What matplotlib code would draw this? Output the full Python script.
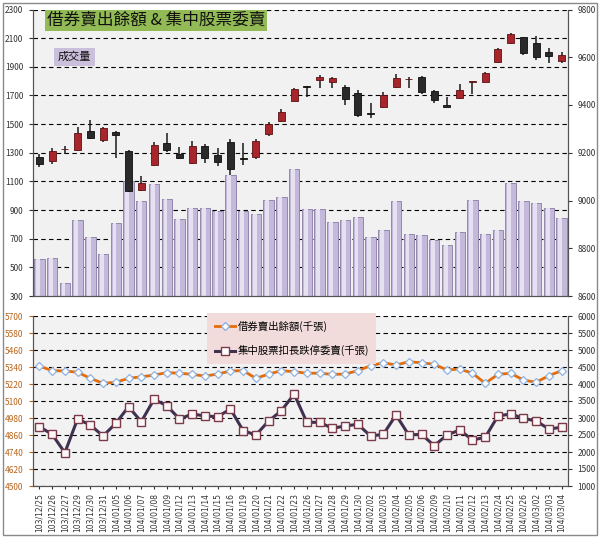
import matplotlib
matplotlib.use('Agg')
import matplotlib.pyplot as plt
import numpy as np
from matplotlib.patches import Rectangle
from matplotlib.lines import Line2D

plt.rcParams['font.family'] = ['Noto Sans CJK TC', 'DejaVu Sans']

dates = ['103/12/25', '103/12/26', '103/12/27', '103/12/29', '103/12/30', '103/12/31',
         '104/01/05', '104/01/06', '104/01/07', '104/01/08', '104/01/09',
         '104/01/12', '104/01/13', '104/01/14', '104/01/15', '104/01/16',
         '104/01/19', '104/01/20', '104/01/21', '104/01/22', '104/01/23',
         '104/01/26', '104/01/27', '104/01/28', '104/01/29', '104/01/30',
         '104/02/02', '104/02/03', '104/02/04', '104/02/05', '104/02/06',
         '104/02/09', '104/02/10', '104/02/11', '104/02/12', '104/02/13',
         '104/02/24', '104/02/25', '104/02/26', '104/03/02', '104/03/03', '104/03/04']

volume = [555, 565, 390, 830, 710, 590, 810, 1100, 960, 1080, 975,
          840, 915, 915, 890, 1145, 890, 870, 970, 989, 1190,
          905, 910, 820, 830, 850, 710, 760, 965, 730, 725,
          690, 655, 750, 970, 735, 760, 1090, 960, 950, 915, 845]

k_open = [9181, 9167, 9215, 9212, 9292, 9253, 9288, 9207, 9044, 9149, 9242,
          9195, 9156, 9230, 9191, 9244, 9177, 9181, 9277, 9333, 9418,
          9477, 9505, 9498, 9474, 9449, 9366, 9390, 9477, 9507, 9519,
          9460, 9400, 9428, 9497, 9498, 9581, 9658, 9684, 9661, 9623, 9584]
k_high = [9195, 9219, 9228, 9309, 9337, 9307, 9292, 9212, 9103, 9246, 9282,
          9225, 9251, 9235, 9219, 9256, 9242, 9256, 9330, 9383, 9470,
          9478, 9526, 9519, 9484, 9463, 9407, 9456, 9530, 9516, 9522,
          9463, 9432, 9487, 9499, 9540, 9640, 9700, 9686, 9689, 9638, 9623]
k_low = [9142, 9153, 9195, 9209, 9256, 9246, 9177, 9037, 9041, 9145, 9204,
         9173, 9153, 9158, 9145, 9107, 9149, 9173, 9270, 9330, 9417,
         9432, 9470, 9470, 9400, 9351, 9344, 9386, 9472, 9470, 9446,
         9407, 9390, 9424, 9446, 9495, 9577, 9654, 9609, 9589, 9575, 9575]
k_close = [9153, 9209, 9216, 9282, 9263, 9302, 9274, 9041, 9075, 9233, 9212,
           9177, 9228, 9177, 9163, 9131, 9172, 9249, 9319, 9369, 9466,
           9476, 9519, 9512, 9424, 9358, 9364, 9442, 9512, 9509, 9456,
           9421, 9390, 9463, 9498, 9533, 9633, 9697, 9619, 9600, 9605, 9609]

short_balance = [5347, 5314, 5312, 5303, 5260, 5225, 5232, 5260, 5271, 5283, 5300,
                 5296, 5288, 5276, 5290, 5312, 5314, 5260, 5290, 5314, 5307,
                 5296, 5296, 5288, 5290, 5314, 5349, 5370, 5354, 5377, 5370,
                 5359, 5319, 5326, 5296, 5225, 5288, 5296, 5248, 5232, 5279, 5314]

limit_sell = [2745, 2520, 1980, 2971, 2794, 2471, 2843, 3333, 2892, 3549, 3363,
              2971, 3118, 3059, 3039, 3265, 2627, 2500, 2912, 3215, 3706,
              2873, 2873, 2697, 2765, 2815, 2471, 2520, 3088, 2500, 2520,
              2186, 2500, 2647, 2353, 2432, 3059, 3118, 2991, 2912, 2677, 2726]

left_top_ticks = list(range(300, 2301, 200))
right_top_ticks = list(range(8600, 9801, 200))
left_bot_ticks = list(range(4500, 5701, 120))
right_bot_ticks = list(range(1000, 6001, 500))

title_text = '借券賣出餘額 & 集中股票委賣'
vol_label = '成交量'
legend_labels = ['借券賣出餘額(千張)', '集中股票扣長跌停委賣(千張)']

n = len(dates)
x = np.arange(n)

fig = plt.figure(figsize=(6, 5.38), dpi=100)
fig.patch.set_facecolor('white')

W, H = 600.0, 538.0
def fax(l, t, r, b):
    return [l / W, 1 - b / H, (r - l) / W, (b - t) / H]

grid_kw = dict(color='black', linestyle=(0, (4, 3)), linewidth=0.8)
tick_fs = 6

# ---------- top panel ----------
ax1 = fig.add_axes(fax(33, 9.5, 568, 296))
ax1.set_facecolor('#f1f1f1')
ax1.set_axisbelow(True)
ax1.bar(x, volume, width=0.82, bottom=0, color='#c4b9db', edgecolor='#9188ab', linewidth=0.7, zorder=2)
ax1.bar(x - 0.1, np.array(volume) - 300, width=0.3, bottom=300, color='#e6e1f1', linewidth=0, zorder=2.1)
ax1.set_ylim(300, 2300)
ax1.set_yticks(left_top_ticks)
ax1.set_xlim(-0.5, n - 0.5)
ax1.set_xticks([])
ax1.yaxis.grid(True, **grid_kw)
ax1.tick_params(axis='y', labelsize=tick_fs, length=3, pad=4, colors='#333333')
ax1.spines['top'].set_visible(False)
for s in ['left', 'right', 'bottom']:
    ax1.spines[s].set_color('#555555')

ax2 = ax1.twinx()
ax2.set_ylim(8600, 9800)
ax2.set_yticks(right_top_ticks)
ax2.tick_params(axis='y', labelsize=tick_fs, length=3, pad=4, colors='#333333')
ax2.spines['top'].set_visible(False)
for s in ['left', 'right', 'bottom']:
    ax2.spines[s].set_color('#555555')

o = np.array(k_open); c = np.array(k_close)
hi = np.array(k_high); lo = np.array(k_low)
up = c >= o
ax2.vlines(x, lo, hi, color='#1a1a1a', linewidth=1.1, zorder=3)
body_bottom = np.minimum(o, c)
body_h = np.maximum(np.abs(c - o), 2.5)
colors = np.where(up, '#a8262b', '#2a2a2a')
edges = np.where(up, '#5a1012', '#0d0d0d')
ax2.bar(x, body_h, bottom=body_bottom, width=0.55, color=colors, edgecolor=edges, linewidth=0.6, zorder=4)
ax2.set_xlim(-0.5, n - 0.5)

fig.text(47 / W, 1 - 20 / H, title_text, fontsize=12, va='center', ha='left', color='#111111',
         bbox=dict(boxstyle='square,pad=0.12', facecolor='#93bb55', edgecolor='none'))
fig.text(58 / W, 1 - 57 / H, vol_label, fontsize=8, va='center', ha='left', color='#111111',
         bbox=dict(boxstyle='square,pad=0.35', facecolor='#cbc0dc', edgecolor='none'))

# ---------- bottom panel ----------
ax3 = fig.add_axes(fax(33, 316, 568, 486))
ax3.set_facecolor('#f2f2f2')
ax3.set_axisbelow(True)
ax3.set_ylim(4500, 5700)
ax3.set_yticks(left_bot_ticks)
ax3.set_xlim(-0.5, n - 0.5)
ax3.yaxis.grid(True, **grid_kw)
ax3.tick_params(axis='y', labelsize=tick_fs, length=3, pad=4, colors='#b8651b')
ax3.set_xticks(x)
ax3.set_xticklabels(dates, rotation=90, fontsize=5.5, family=['DejaVu Sans'])
ax3.tick_params(axis='x', length=2, pad=3, colors='#333333')
ax3.spines['top'].set_visible(False)
for s in ['left', 'right', 'bottom']:
    ax3.spines[s].set_color('#555555')

ax4 = ax3.twinx()
ax4.set_ylim(1000, 6000)
ax4.set_yticks(right_bot_ticks)
ax4.tick_params(axis='y', labelsize=tick_fs, length=3, pad=4, colors='#333333')
ax4.spines['top'].set_visible(False)
for s in ['left', 'right', 'bottom']:
    ax4.spines[s].set_color('#555555')

ax3.plot(x, short_balance, color='#e46c0a', linewidth=2, marker='D', markersize=4.5,
         markerfacecolor='white', markeredgecolor='#8db3e2', markeredgewidth=0.9, zorder=5)
ax4.plot(x, limit_sell, color='#403151', linewidth=2.2, marker='s', markersize=6,
         markerfacecolor='#fbf7f7', markeredgecolor='#7b3a4a', markeredgewidth=1.0, zorder=5)
ax4.set_xlim(-0.5, n - 0.5)

h1 = Line2D([0], [0], color='#e46c0a', linewidth=2, marker='D', markersize=4.5,
            markerfacecolor='white', markeredgecolor='#8db3e2')
h2 = Line2D([0], [0], color='#403151', linewidth=2.2, marker='s', markersize=6,
            markerfacecolor='white', markeredgecolor='#7b3a4a')
leg = fig.legend([h1, h2], legend_labels, loc='upper left',
                 bbox_to_anchor=(202 / W, 1 - 308 / H), bbox_transform=fig.transFigure,
                 fontsize=7.5, frameon=True, facecolor='#f2dcdb', edgecolor='none',
                 framealpha=1, fancybox=False, handlelength=2.0, handletextpad=0.2,
                 labelspacing=1.3, borderpad=0.7)

fig.patches.append(Rectangle((3 / W, 3 / H), 594 / W, 532 / H, transform=fig.transFigure,
                             fill=False, edgecolor='#8a8a8a', linewidth=1))

fig.savefig('out.png', dpi=100)
